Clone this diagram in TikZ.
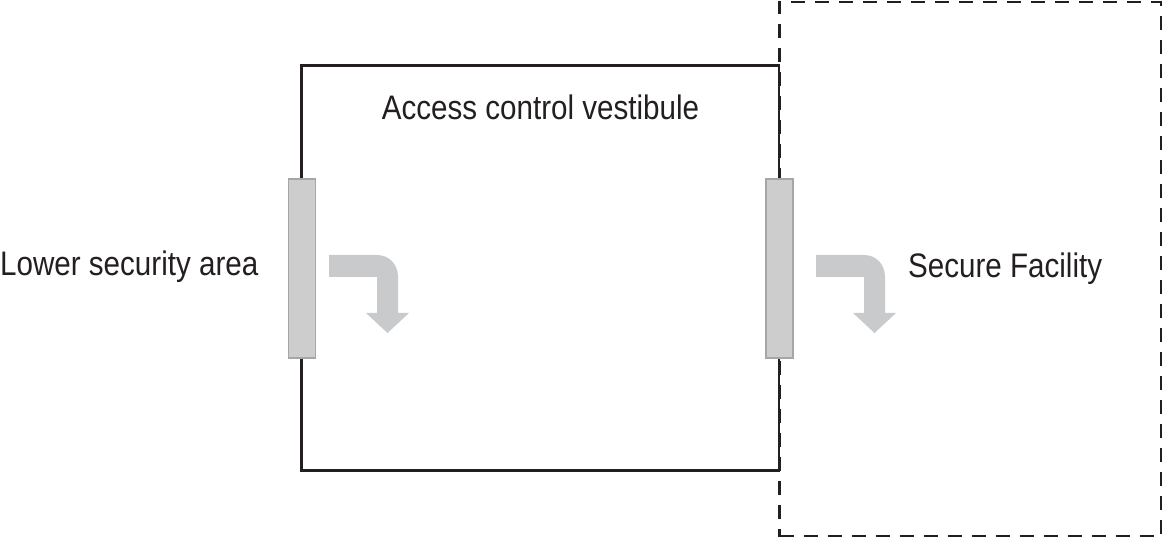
\documentclass[tikz,border=0pt]{standalone}
\usepackage{fontspec}
\setmainfont[FakeStretch=0.87]{Liberation Sans}
\definecolor{ink}{HTML}{231F20}
\definecolor{doorfill}{HTML}{CDCDCE}
\definecolor{doorline}{HTML}{A5A6A8}
\definecolor{arrowfill}{HTML}{C9CACC}
\begin{document}
\begin{tikzpicture}[x=1pt,y=-1pt,
  room/.style={draw=ink,line width=2.8pt,minimum width=477.5pt,minimum height=405pt,inner sep=0pt},
  facility/.style={draw=ink,line width=2.7pt,dash pattern=on 14pt off 10pt,minimum width=381.5pt,minimum height=534.5pt,inner sep=0pt},
  doorbox/.style={draw=doorline,fill=doorfill,line width=1.3pt,minimum width=27pt,minimum height=179pt,inner sep=0pt},
  lbl/.style={text=ink,font=\fontsize{34}{40}\selectfont,inner sep=0pt},
  turn/.style={fill=arrowfill,draw=none}]
\useasboundingbox (0,0) rectangle (1162,537);
% secure facility (dashed)
\node[facility] (fac) at (970.25,269.25) {};
% vestibule
\node[room] (vest) at (540.25,268) {};
% doors
\node[doorbox] (door1) at (302,268.5) {};
\node[doorbox] (door2) at (779.5,268.5) {};
% labels
\node[lbl,anchor=base west] (lower) at (0,276) {Lower security area};
\node[lbl,anchor=base] (vestlbl) at (540.5,119.5) {Access control vestibule};
\node[lbl,anchor=base west] (secure) at (908,277.5) {Secure Facility};
% turn arrows
\foreach \dx/\nm in {0/arrA,487/arrB}{
  \begin{scope}[xshift=\dx pt]
    \fill[turn] (329,255) -- (377,255) .. controls (389,255) and (398,264) .. (398,277)
      -- (398,313) -- (409,313) -- (387.5,333) -- (366,313) -- (377,313) -- (377,277)
      -- (329,277) -- cycle;
    \coordinate (\nm) at (387.5,333);
  \end{scope}
}
\end{tikzpicture}
\end{document}
